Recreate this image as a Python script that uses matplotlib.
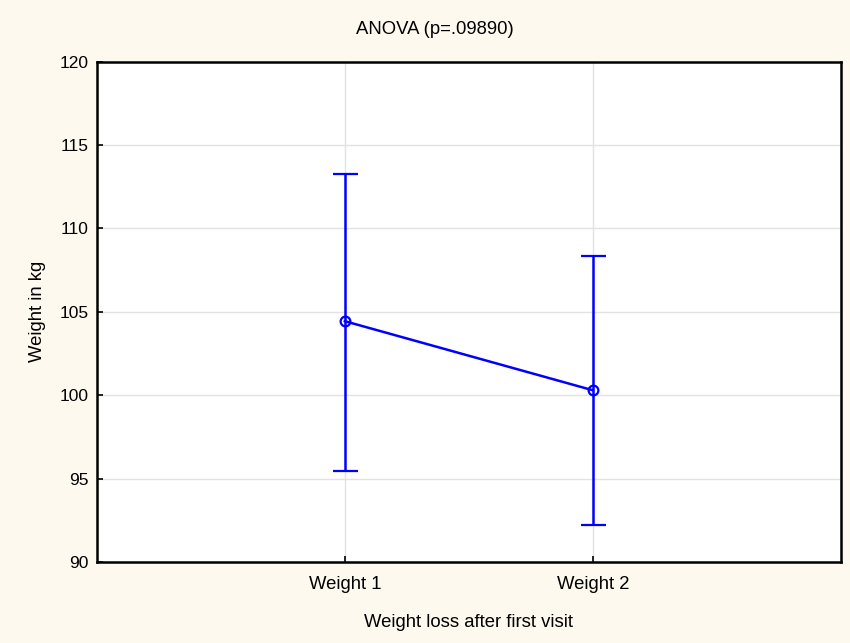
import numpy as np
import matplotlib.pyplot as plt

plt.rcParams['font.family'] = ['Liberation Sans', 'DejaVu Sans']

groups = ['Weight 1', 'Weight 2']
means = [104.44, 100.3]
lower = [95.45, 92.19]
upper = [113.26, 108.36]
yticks = [90, 95, 100, 105, 110, 115, 120]

bg = '#fdf9ef'
blue = '#0000ff'

fig = plt.figure(figsize=(8.5, 6.43), dpi=100, facecolor=bg)
ax = fig.add_axes([0.114, 0.126, 0.875, 0.778])
ax.set_facecolor('white')

x = np.arange(1, len(groups) + 1)
m = np.array(means)
err = [m - np.array(lower), np.array(upper) - m]
ax.errorbar(x, m, yerr=err, color=blue, lw=1.8, capsize=9, capthick=1.8,
            marker='o', ms=7, mfc='none', mec=blue, mew=1.6, zorder=3)

ax.set_xlim(0, 3)
ax.set_ylim(90, 120)
ax.set_xticks(x)
ax.set_xticklabels(groups)
ax.set_yticks(yticks)
ax.grid(True, color='#e2e2e2', lw=1)
ax.set_axisbelow(True)
ax.tick_params(direction='in', length=4, width=1.2, labelsize=12.5, pad=6)
ax.tick_params(axis='x', labelsize=13.3, pad=10)
for s in ax.spines.values():
    s.set_linewidth(1.8)

fig.text(435 / 850, 1 - 29 / 643, 'ANOVA (p=.09890)', fontsize=13.3,
         ha='center', va='center')
ax.set_xlabel('Weight loss after first visit', fontsize=13.3, labelpad=15)
ax.set_ylabel('Weight in kg', fontsize=13.3, labelpad=10)

fig.savefig('out.png', dpi=100, facecolor=bg)
